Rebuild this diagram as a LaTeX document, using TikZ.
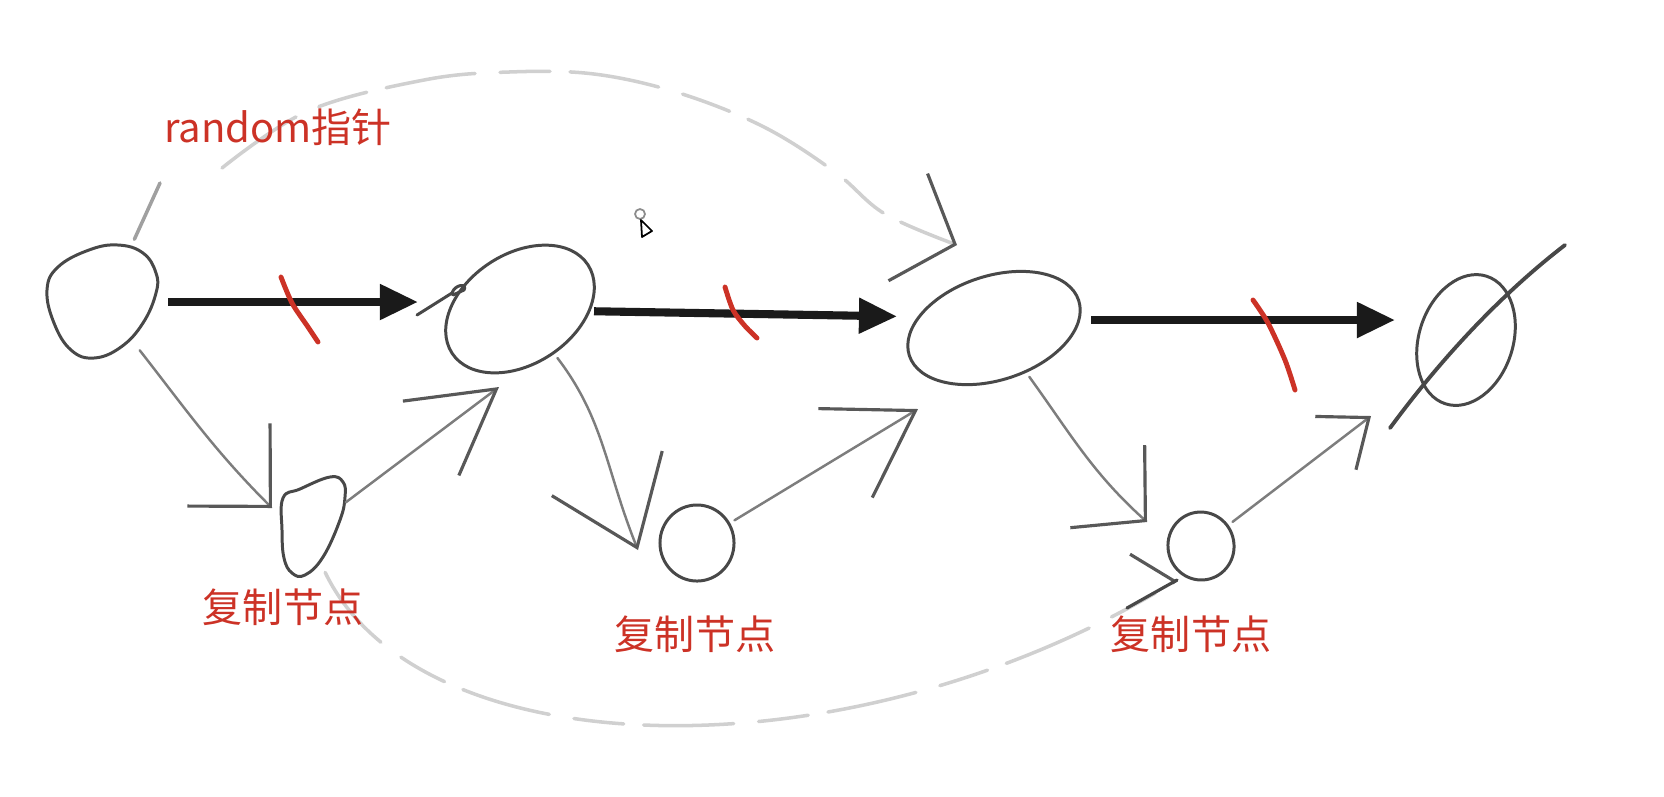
\documentclass[tikz,border=0pt]{standalone}
\usepackage{fontspec}
\newfontfamily\cjkfont{Noto Sans CJK SC}
\usetikzlibrary{arrows.meta,shapes.geometric,calc}
\definecolor{inkred}{RGB}{204,50,38}
\definecolor{ink}{RGB}{72,72,72}
\definecolor{tipink}{RGB}{88,88,88}
\definecolor{shaft}{RGB}{125,125,125}
\definecolor{faint}{RGB}{208,208,208}
\definecolor{midgray}{RGB}{160,160,160}
\definecolor{arrowblack}{RGB}{26,26,26}
\begin{document}
\begin{tikzpicture}[x=0.01cm,y=-0.01cm,
  hid/.style={ellipse,draw=none,inner sep=0pt,outer sep=0pt},
  oval/.style={ellipse,draw=ink,line width=0.85pt,inner sep=0pt},
  sketchline/.style={draw=ink,line width=0.85pt,line cap=round,line join=round},
  bigarrow/.style={draw=arrowblack,line width=2.3pt,-{Triangle[length=3.8mm,width=3.4mm]}},
  skarrow/.style={draw=shaft,line width=0.7pt,line cap=round},
  faintarc/.style={draw=faint,line width=1pt,line cap=round,dash pattern=on 9mm off 2.5mm on 5mm off 2mm},
  redmark/.style={draw=inkred,line width=1.4pt,line cap=round},
  lbl/.style={text=inkred,font=\cjkfont\fontsize{11.4}{13}\selectfont,inner sep=0pt}
]
\useasboundingbox (0,0) rectangle (1664,796);

% original list nodes
\node[hid,minimum width=1.1cm,minimum height=1.14cm] (n1) at (102,302) {};
\draw[sketchline] plot[smooth cycle,tension=0.7] coordinates {(47,290) (58,267) (89,250) (118,245) (143,253) (156,273) (156,293) (143,323) (121,347) (94,358) (71,350) (54,323)};
\node[oval,minimum width=1.62cm,minimum height=1.1cm,rotate=33] (n2) at (520,309) {};
\node[oval,minimum width=1.78cm,minimum height=1.04cm,rotate=18] (n3) at (994,328) {};
\node[oval,minimum width=1.34cm,minimum height=0.94cm,rotate=72] (n4) at (1466,340) {};

% copy nodes
\node[hid,minimum width=0.64cm,minimum height=0.98cm] (c1) at (313,527) {};
\draw[sketchline] plot[smooth cycle,tension=0.7] coordinates {(283,498) (300,489) (330,477) (343,482) (345,497) (340,520) (323,557) (305,575) (292,573) (284,558) (282,530)};
\node[oval,minimum width=0.74cm,minimum height=0.76cm] (c2) at (697,543) {};
\node[oval,minimum width=0.66cm,minimum height=0.68cm,rotate=10] (c3) at (1201,546) {};

% small stroke tail at n2
\draw[sketchline] (417,315) -- (452,293) .. controls (455,284) and (468,283) .. (464,290) -- (453,295);

% null slash through n4
\draw[sketchline,line width=1.1pt] (1390,428) .. controls (1440,360) and (1500,295) .. (1565,245);

% next pointers (black)
\draw[bigarrow,shorten <=1.1mm,shorten >=10.2mm] (n1) -- ($(n2)+(0,-7)$);
\draw[bigarrow,shorten <=7.4mm,shorten >=9.7mm] ($(n2)+(0,1)$) -- ($(n3)+(0,-10)$);
\draw[bigarrow,shorten <=9.7mm,shorten >=7.1mm] ($(n3)+(0,-8)$) -- ($(n4)+(0,-20)$);

% red cut marks
\draw[redmark] plot[smooth] coordinates {(281,277) (292,303) (308,327) (318,342)};
\draw[redmark] plot[smooth] coordinates {(725,287) (733,310) (745,326) (757,338)};
\draw[redmark] plot[smooth] coordinates {(1253,300) (1268,323) (1285,360) (1295,390)};

% arrow tip points
\coordinate (t1) at (272,508);
\coordinate (t2) at (499,387);
\coordinate (t3) at (638,550);
\coordinate (t4) at (918,409);
\coordinate (t5) at (1147,522);
\coordinate (t6) at (1371,416);
\coordinate (t7) at (957,245);
\coordinate (t8) at (1177,580);
\coordinate (b8) at (1127,608);
\coordinate (a1) at (160,183);
\coordinate (a2) at (222,168);

% gray sketch arrows through copies
\draw[skarrow,shorten <=0.5mm,-{Straight Barb[length=5.9mm,width=11.7mm,line width=0.9pt,color=tipink]}] (n1) to[out=-52,in=135] (t1);
\draw[skarrow,shorten <=0.5mm,-{Straight Barb[length=8.2mm,width=9.3mm,line width=0.9pt,color=tipink]}] (c1) -- (t2);
\draw[skarrow,shorten <=0.5mm,-{Straight Barb[length=8mm,width=11.9mm,line width=0.9pt,color=tipink]}] (n2) to[out=-66,in=112] (t3);
\draw[skarrow,shorten <=0.5mm,-{Straight Barb[length=8.2mm,width=10.4mm,line width=0.9pt,color=tipink]}] (c2) -- (t4);
\draw[skarrow,shorten <=0.5mm,-{Straight Barb[length=5.1mm,width=11.1mm,line width=0.9pt,color=tipink]}] (n3) to[out=-62,in=138] (t5);
\draw[skarrow,shorten <=0.5mm,-{Straight Barb[length=4.2mm,width=6.7mm,line width=0.9pt,color=tipink]}] (c3) -- (t6);

% random pointers (faint)
\draw[draw=midgray,line width=1pt,line cap=round,shorten <=1.4mm] (n1.62) -- (a1);
\draw[faintarc,-{Straight Barb[length=5mm,width=11.4mm,line width=0.9pt,color=tipink]}] plot[smooth,tension=0.6] coordinates {(a2) (308,111) (424,80) (509,72) (594,74) (679,93) (764,127) (835,172) (885,214) (t7)};
\draw[faintarc,-{Straight Barb[left,length=2.4mm,width=9.3mm,line width=0.9pt,color=tipink]}] (c1.-75) .. controls (420,770) and (850,780) .. (t8);
\draw[sketchline,line width=0.9pt] (b8) -- (t8);

% cursor
\draw[black!45,line width=0.5pt] (640,214) circle[radius=5];
\draw[black,line width=0.5pt,fill=white,line join=round] (641,220) -- (642,237) -- (652,231) -- cycle;

% labels
\node[lbl] (lr) at (278,127) {random指针};
\node[lbl] (lc1) at (283,607) {复制节点};
\node[lbl] (lc2) at (695,634) {复制节点};
\node[lbl] (lc3) at (1191,634) {复制节点};
\end{tikzpicture}
\end{document}
